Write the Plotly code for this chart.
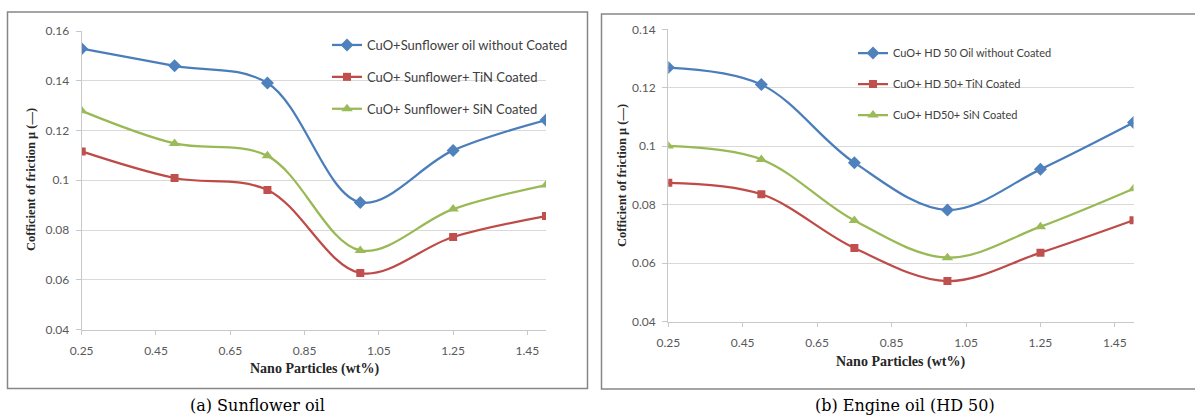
import plotly.graph_objects as go

W, H = 1195, 417

x_vals = [0.25, 0.5, 0.75, 1.0, 1.25, 1.5]

sun_blue = [0.1529, 0.1460, 0.1391, 0.0911, 0.1120, 0.1242]
sun_red = [0.1116, 0.1009, 0.0961, 0.0627, 0.0772, 0.0856]
sun_green = [0.1279, 0.1148, 0.1098, 0.0718, 0.0884, 0.0981]

hd_blue = [0.1269, 0.1211, 0.0944, 0.0782, 0.0921, 0.1081]
hd_red = [0.0875, 0.0836, 0.0652, 0.0539, 0.0636, 0.0747]
hd_green = [0.1001, 0.0955, 0.0746, 0.0619, 0.0725, 0.0855]

sun_names = ["CuO+Sunflower oil without Coated", "CuO+ Sunflower+ TiN Coated", "CuO+ Sunflower+ SiN Coated"]
hd_names = ["CuO+ HD 50 Oil without Coated", "CuO+ HD 50+ TiN Coated", "CuO+ HD50+ SiN Coated"]

x_ticks = [0.25, 0.45, 0.65, 0.85, 1.05, 1.25, 1.45]
x_ticktext = ["0.25", "0.45", "0.65", "0.85", "1.05", "1.25", "1.45"]
y_ticks_a = [0.04, 0.06, 0.08, 0.1, 0.12, 0.14, 0.16]
y_ticktext_a = ["0.04", "0.06", "0.08", "0.1", "0.12", "0.14", "0.16"]
y_ticks_b = [0.04, 0.06, 0.08, 0.1, 0.12, 0.14]
y_ticktext_b = ["0.04", "0.06", "0.08", "0.1", "0.12", "0.14"]

captions = ["(a) Sunflower oil", "(b) Engine oil (HD 50)"]
x_title = "Nano Particles (wt%)"
y_title = "Cofficient of friction μ (—)"

colors = ["#4A7EBB", "#BE4B48", "#98B954"]
mcolors = ["#4F81BD", "#C0504D", "#9BBB59"]
symbols = ["diamond", "square", "triangle-up"]
msizes = [10, 8, 10]


def px(v):
    return v / W


def py(v):
    return 1 - v / H


fig = go.Figure()

for i, (ys, nm) in enumerate(zip([sun_blue, sun_red, sun_green], sun_names)):
    fig.add_trace(go.Scatter(
        x=x_vals, y=ys, name=nm, mode="lines+markers",
        line=dict(color=colors[i], width=2.25, shape="spline", smoothing=1.0),
        marker=dict(symbol=symbols[i], size=msizes[i], color=mcolors[i]),
        xaxis="x", yaxis="y", legend="legend", legendgroup="a%d" % i,
    ))

for i, (ys, nm) in enumerate(zip([hd_blue, hd_red, hd_green], hd_names)):
    fig.add_trace(go.Scatter(
        x=x_vals, y=ys, name=nm, mode="lines+markers",
        line=dict(color=colors[i], width=2.25, shape="spline", smoothing=1.0),
        marker=dict(symbol=symbols[i], size=msizes[i], color=mcolors[i]),
        xaxis="x2", yaxis="y2", legend="legend2", legendgroup="b%d" % i,
    ))

tickfont = dict(family="Lato, Liberation Sans, sans-serif", size=12, color="#595959")

xaxis_common = dict(
    range=[0.25, 1.5], tickvals=x_ticks, ticktext=x_ticktext,
    showgrid=False, zeroline=False, showline=True, linecolor="#C8C8C8", linewidth=1.3,
    ticks="outside", ticklen=4, tickcolor="#C8C8C8", tickwidth=1,
    tickfont=tickfont, ticklabelstandoff=6, fixedrange=True, automargin=False,
)
yaxis_common = dict(
    showgrid=True, gridcolor="#D9D9D9", gridwidth=1.3, zeroline=False,
    showline=True, linecolor="#C8C8C8", linewidth=1.3,
    ticks="outside", ticklen=5, tickcolor="#C8C8C8", tickwidth=1,
    tickfont=tickfont, ticklabelstandoff=4, fixedrange=True, automargin=False,
)

fig.update_layout(
    width=W, height=H,
    margin=dict(l=0, r=0, t=0, b=0, autoexpand=False),
    paper_bgcolor="white", plot_bgcolor="white",
    showlegend=True,
    xaxis=dict(domain=[px(81.7), px(546)], anchor="y", **xaxis_common),
    yaxis=dict(domain=[py(329.5), py(31)], anchor="x", range=[0.04, 0.16],
               tickvals=y_ticks_a, ticktext=y_ticktext_a, **yaxis_common),
    xaxis2=dict(domain=[px(668.3), px(1133.5)], anchor="y2", **xaxis_common),
    yaxis2=dict(domain=[py(321.7), py(29.3)], anchor="x2", range=[0.04, 0.14],
                tickvals=y_ticks_b, ticktext=y_ticktext_b, **yaxis_common),
    legend=dict(x=px(327), y=py(30), xanchor="left", yanchor="top",
                bgcolor="rgba(0,0,0,0)", tracegroupgap=12,
                font=dict(family="Lato, Liberation Sans, sans-serif", size=13, color="#404040")),
    legend2=dict(x=px(853), y=py(38.5), xanchor="left", yanchor="top",
                 bgcolor="rgba(0,0,0,0)", tracegroupgap=12,
                 font=dict(family="Lato, Liberation Sans, sans-serif", size=11, color="#404040")),
)

# chart frames
fig.add_shape(type="rect", xref="paper", yref="paper",
              x0=px(7.5), x1=px(587.5), y0=py(388.5), y1=py(12),
              line=dict(color="#868686", width=1.5), layer="below")
fig.add_shape(type="rect", xref="paper", yref="paper",
              x0=px(601.5), x1=px(1200), y0=py(389), y1=py(14),
              line=dict(color="#868686", width=1.5), layer="below")

xt_font = dict(family="Liberation Serif, Times New Roman, serif", size=14, color="#262626")
yt_font = dict(family="Liberation Serif, Times New Roman, serif", size=12.5, color="#262626")

# axis titles
fig.add_annotation(x=px(314), y=py(369), xref="paper", yref="paper", text="<b>%s</b>" % x_title,
                   showarrow=False, font=xt_font, xanchor="center", yanchor="middle")
fig.add_annotation(x=px(900), y=py(362), xref="paper", yref="paper", text="<b>%s</b>" % x_title,
                   showarrow=False, font=xt_font, xanchor="center", yanchor="middle")
fig.add_annotation(x=px(31), y=py(180), xref="paper", yref="paper", text="<b>%s</b>" % y_title,
                   showarrow=False, font=yt_font, textangle=-90, xanchor="center", yanchor="middle")
fig.add_annotation(x=px(622), y=py(176), xref="paper", yref="paper", text="<b>%s</b>" % y_title,
                   showarrow=False, font=yt_font, textangle=-90, xanchor="center", yanchor="middle")

cap_font = dict(family="DejaVu Serif, Liberation Serif, serif", size=16, color="#000000")
fig.add_annotation(x=px(257), y=py(405), xref="paper", yref="paper", text=captions[0],
                   showarrow=False, font=cap_font, xanchor="center", yanchor="middle")
fig.add_annotation(x=px(905), y=py(405), xref="paper", yref="paper", text=captions[1],
                   showarrow=False, font=cap_font, xanchor="center", yanchor="middle")

fig.write_html("out.html", config={"displayModeBar": False},
               post_script="document.body.style.margin='0';document.body.style.overflow='hidden';")
